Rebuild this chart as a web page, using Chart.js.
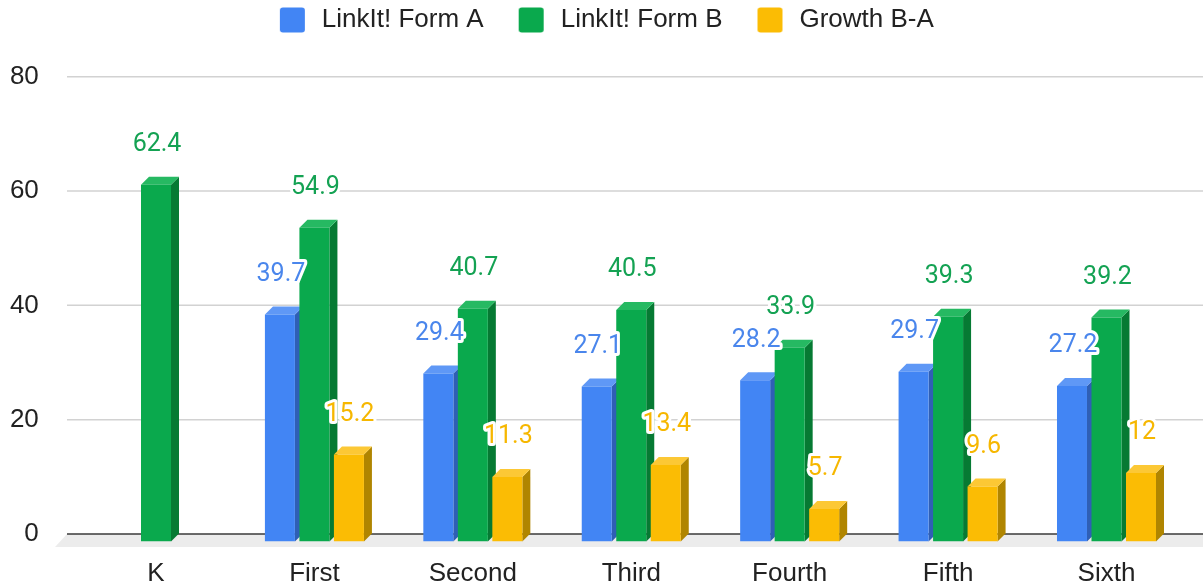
<!DOCTYPE html>
<html><head><meta charset="utf-8">
<script src="https://cdn.jsdelivr.net/npm/chart.js@4.4.1/dist/chart.umd.min.js"></script>
<style>html,body{margin:0;padding:0;background:#fff;}#wrap{width:1203px;height:587px;position:relative;}</style>
</head><body><div id="wrap"><canvas id="c"></canvas></div>
<script>
// ---- data ----
const categories = ['K', 'First', 'Second', 'Third', 'Fourth', 'Fifth', 'Sixth'];
const formA = [null, 39.7, 29.4, 27.1, 28.2, 29.7, 27.2];
const formB = [62.4, 54.9, 40.7, 40.5, 33.9, 39.3, 39.2];
const growth = [null, 15.2, 11.3, 13.4, 5.7, 9.6, 12];
const seriesNames = ['LinkIt! Form A', 'LinkIt! Form B', 'Growth B-A'];
const yTicks = [0, 20, 40, 60, 80];

// ---- styles ----
const frontColors = ['#4285f4', '#0aa94d', '#fbbc04'];
const sideColors = ['#2f5fb5', '#067a33', '#b08500'];
const topColors = ['#5f98f6', '#26b962', '#fcc835'];
const labelColors = ['#4a86ec', '#14a253', '#f6b700'];

// ---- layout (pixels) ----
const W = 1203, H = 587;
const PLOT_LEFT = 76.8, PLOT_RIGHT = 1185.7, PLOT_TOP = 43, PLOT_BOTTOM = 541.5;
const BACK_ZERO = 534, BACK_TOP_PX = 76.7;
const PX_PER_UNIT = (BACK_ZERO - BACK_TOP_PX) / yTicks[yTicks.length - 1];
const DEPTH = 8;
const WALL_LEFT = 67, FLOOR_DEPTH = 13, FLOOR_SLANT = 12;
const FONT = "'Liberation Sans', Arial, sans-serif";

Chart.defaults.font.family = FONT;
Chart.defaults.color = '#222';

// legend icons (square with leading spacing)
const ICON_W = 57, ICON_H = 26, SQ = 25;
function makeIcon(color) {
  const cv = document.createElement('canvas');
  cv.width = ICON_W; cv.height = ICON_H;
  const c = cv.getContext('2d');
  c.fillStyle = color;
  const x = ICON_W - SQ - 4, y = (ICON_H - SQ) / 2, r = 3;
  c.beginPath();
  c.moveTo(x + r, y); c.lineTo(x + SQ - r, y); c.quadraticCurveTo(x + SQ, y, x + SQ, y + r);
  c.lineTo(x + SQ, y + SQ - r); c.quadraticCurveTo(x + SQ, y + SQ, x + SQ - r, y + SQ);
  c.lineTo(x + r, y + SQ); c.quadraticCurveTo(x, y + SQ, x, y + SQ - r);
  c.lineTo(x, y + r); c.quadraticCurveTo(x, y, x + r, y);
  c.closePath(); c.fill();
  return cv;
}
const legendIcons = frontColors.map(makeIcon);

const threeD = {
  id: 'threeD',
  beforeDatasetsDraw(chart) {
    const ctx = chart.ctx, yb = chart.scales.yb;
    const y0 = yb.getPixelForValue(0);
    ctx.save();
    // floor
    ctx.fillStyle = '#ececec';
    ctx.beginPath();
    ctx.moveTo(WALL_LEFT, y0);
    ctx.lineTo(chart.width, y0);
    ctx.lineTo(chart.width, y0 + FLOOR_DEPTH);
    ctx.lineTo(WALL_LEFT - FLOOR_SLANT, y0 + FLOOR_DEPTH);
    ctx.closePath(); ctx.fill();
    // back-wall gridlines
    ctx.strokeStyle = '#d2d2d2'; ctx.lineWidth = 1.5;
    yTicks.forEach(v => {
      if (v === 0) return;
      const y = yb.getPixelForValue(v);
      ctx.beginPath(); ctx.moveTo(WALL_LEFT, y); ctx.lineTo(chart.width, y); ctx.stroke();
    });
    // zero line
    ctx.strokeStyle = '#3a3a3a'; ctx.lineWidth = 1.5;
    ctx.beginPath(); ctx.moveTo(WALL_LEFT, y0); ctx.lineTo(chart.width, y0); ctx.stroke();
    // side and top faces
    chart.data.datasets.forEach((ds, i) => {
      const meta = chart.getDatasetMeta(i);
      meta.data.forEach((el, j) => {
        if (ds.data[j] == null) return;
        const p = el.getProps(['x', 'y', 'base', 'width'], true);
        const l = p.x - p.width / 2, r = p.x + p.width / 2;
        ctx.fillStyle = sideColors[i];
        ctx.beginPath();
        ctx.moveTo(r, p.y); ctx.lineTo(r + DEPTH, p.y - DEPTH);
        ctx.lineTo(r + DEPTH, p.base - DEPTH); ctx.lineTo(r, p.base);
        ctx.closePath(); ctx.fill();
        ctx.fillStyle = topColors[i];
        ctx.beginPath();
        ctx.moveTo(l, p.y); ctx.lineTo(l + DEPTH, p.y - DEPTH);
        ctx.lineTo(r + DEPTH, p.y - DEPTH); ctx.lineTo(r, p.y);
        ctx.closePath(); ctx.fill();
      });
    });
    ctx.restore();
  },
  afterDatasetsDraw(chart) {
    const ctx = chart.ctx;
    ctx.save();
    ctx.font = "25px Roboto, 'Liberation Sans', sans-serif";
    ctx.textAlign = 'center'; ctx.textBaseline = 'middle';
    ctx.lineJoin = 'round';
    chart.data.datasets.forEach((ds, i) => {
      const meta = chart.getDatasetMeta(i);
      meta.data.forEach((el, j) => {
        const v = ds.data[j];
        if (v == null) return;
        const p = el.getProps(['x', 'y'], true);
        const tx = p.x + 1, ty = p.y - 40;
        ctx.strokeStyle = '#ffffff'; ctx.lineWidth = 6;
        ctx.strokeText(String(v), tx, ty);
        ctx.fillStyle = labelColors[i];
        ctx.fillText(String(v), tx, ty);
      });
    });
    ctx.restore();
  }
};

const seriesData = [formA, formB, growth];
const datasets = seriesData.map((d, i) => ({
  label: seriesNames[i],
  data: d,
  backgroundColor: frontColors[i],
  borderWidth: 0,
  yAxisID: 'y',
  categoryPercentage: 0.6534,
  barPercentage: 0.8696
}));

new Chart(document.getElementById('c'), {
  type: 'bar',
  data: { labels: categories, datasets },
  options: {
    responsive: true,
    maintainAspectRatio: false,
    animation: false,
    devicePixelRatio: 1,
    layout: { padding: { top: 0, left: 0, bottom: 0, right: W - PLOT_RIGHT } },
    plugins: {
      tooltip: { enabled: false },
      legend: {
        position: 'top',
        align: 'center',
        labels: {
          usePointStyle: true,
          pointStyleWidth: ICON_W,
          boxHeight: ICON_H,
          padding: 7,
          color: '#222',
          font: { size: 26, family: FONT },
          generateLabels(chart) {
            const items = Chart.defaults.plugins.legend.labels.generateLabels(chart);
            items.forEach(it => { it.pointStyle = legendIcons[it.datasetIndex]; it.lineWidth = 0; });
            return items;
          }
        }
      }
    },
    scales: {
      x: {
        offset: true,
        grid: { display: false, drawTicks: false },
        border: { display: false },
        ticks: { padding: 17, color: '#222', font: { size: 26, family: FONT } },
        afterFit(s) { s.height = H - PLOT_BOTTOM; s.paddingLeft = 0; s.paddingRight = 0; }
      },
      yb: {
        position: 'left',
        bounds: 'data',
        min: -(PLOT_BOTTOM - BACK_ZERO) / PX_PER_UNIT,
        max: yTicks[yTicks.length - 1] + (BACK_TOP_PX - PLOT_TOP) / PX_PER_UNIT,
        grid: { display: false, drawTicks: false },
        border: { display: false },
        ticks: { padding: 38, color: '#222', font: { size: 26, family: FONT } },
        afterBuildTicks(s) { s.ticks = yTicks.map(v => ({ value: v })); },
        afterFit(s) { s.width = PLOT_LEFT; s.paddingTop = 0; s.paddingBottom = 0; }
      },
      y: {
        display: false,
        bounds: 'data',
        min: 0,
        max: (PLOT_BOTTOM - PLOT_TOP) / PX_PER_UNIT
      }
    }
  },
  plugins: [threeD]
});
</script>
</body></html>
